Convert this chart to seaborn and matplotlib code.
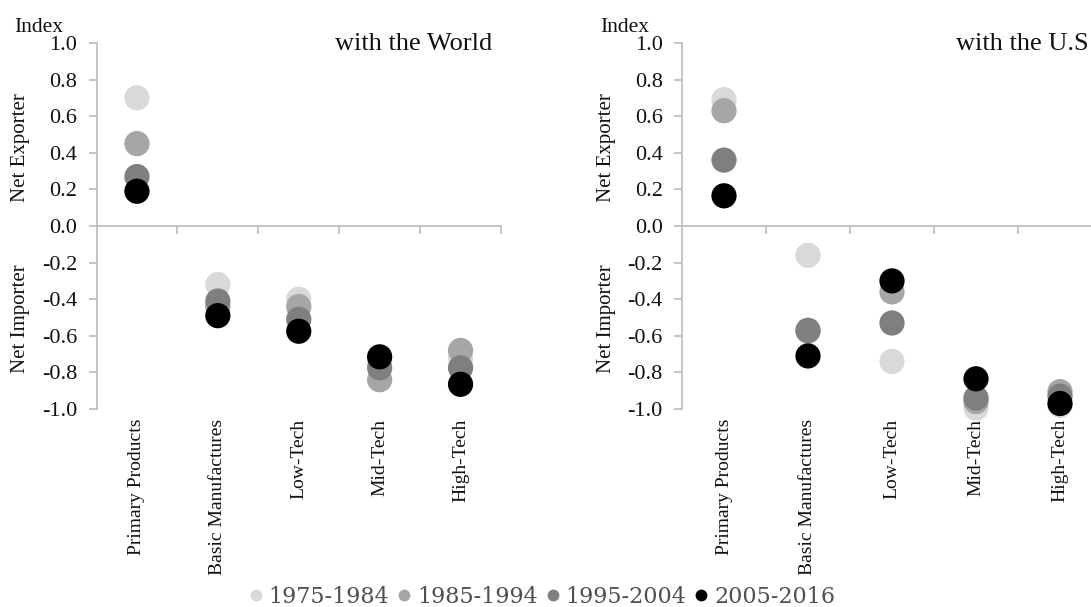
import matplotlib
matplotlib.use("Agg")
import matplotlib.pyplot as plt
from matplotlib.lines import Line2D
from matplotlib.ticker import FixedLocator, FormatStrFormatter
import seaborn as sns
import pandas as pd

categories = ["Primary Products", "Basic Manufactures", "Low-Tech", "Mid-Tech", "High-Tech"]
periods = ["1975-1984", "1985-1994", "1995-2004", "2005-2016"]
colors = ["#d9d9d9", "#a6a6a6", "#7f7f7f", "#000000"]

world_1975 = [0.70, -0.32, -0.40, -0.74, -0.72]
world_1985 = [0.45, -0.44, -0.44, -0.84, -0.68]
world_1995 = [0.27, -0.41, -0.51, -0.775, -0.775]
world_2005 = [0.19, -0.49, -0.575, -0.715, -0.865]

us_1975 = [0.69, -0.16, -0.74, -0.995, -0.98]
us_1985 = [0.63, -0.575, -0.36, -0.96, -0.905]
us_1995 = [0.36, -0.57, -0.53, -0.94, -0.93]
us_2005 = [0.165, -0.71, -0.30, -0.835, -0.97]

panel_titles = ["with the World", "with the U.S"]
yticks = [-1.0, -0.8, -0.6, -0.4, -0.2, 0.0, 0.2, 0.4, 0.6, 0.8, 1.0]


def make_df(series):
    rows = []
    for period, vals in zip(periods, series):
        for cat, v in zip(categories, vals):
            rows.append({"category": cat, "pos": categories.index(cat), "period": period, "value": v})
    return pd.DataFrame(rows)


world_df = make_df([world_1975, world_1985, world_1995, world_2005])
us_df = make_df([us_1975, us_1985, us_1995, us_2005])

sns.set_style("white")
plt.rcParams["font.family"] = ["Liberation Serif", "DejaVu Serif"]
plt.rcParams["axes.unicode_minus"] = False

fig = plt.figure(figsize=(10.91, 6.07), dpi=100)
H = 607.0
W = 1091.0
ax1 = fig.add_axes([96.5 / W, (H - 409) / H, 404.5 / W, 366 / H])
ax2 = fig.add_axes([682 / W, (H - 409) / H, 420 / W, 366 / H])

palette = dict(zip(periods, colors))
spine_col = "#bfbfbf"

for ax, df, title, title_x in [(ax1, world_df, panel_titles[0], 0.978), (ax2, us_df, panel_titles[1], 0.967)]:
    sns.scatterplot(data=df, x="pos", y="value", hue="period", palette=palette,
                    s=330, linewidth=0, alpha=1, ax=ax, legend=False, clip_on=False, zorder=3)
    ax.set_xlim(-0.5, 4.5)
    ax.set_ylim(-1.0, 1.0)
    ax.set_xlabel("")
    ax.set_ylabel("")
    ax.set_facecolor("none")
    for s in ["top", "right"]:
        ax.spines[s].set_visible(False)
    ax.spines["left"].set_color(spine_col)
    ax.spines["left"].set_linewidth(1.3)
    ax.spines["bottom"].set_color(spine_col)
    ax.spines["bottom"].set_linewidth(1.3)
    ax.spines["bottom"].set_position(("data", 0))
    ax.set_yticks(yticks)
    ax.yaxis.set_major_formatter(FormatStrFormatter("%.1f"))
    ax.tick_params(axis="y", direction="out", length=6, width=1.3, color=spine_col,
                   labelsize=16, pad=8, labelcolor="#111111", left=True)
    ax.set_xticks([])
    ax.xaxis.set_minor_locator(FixedLocator([0.5, 1.5, 2.5, 3.5, 4.5]))
    ax.tick_params(axis="x", which="minor", direction="out", length=6, width=1.3,
                   color=spine_col, bottom=True, labelbottom=False)
    sec = ax.secondary_xaxis("bottom")
    sec.set_xticks(range(len(categories)))
    sec.set_xticklabels(categories, rotation=90, fontsize=14, color="#111111")
    sec.tick_params(length=0, pad=7)
    sec.spines["bottom"].set_visible(False)
    ax.text(title_x, 0.981, title, transform=ax.transAxes, ha="right", va="baseline",
            fontsize=19, color="#111111")
    ax.annotate("Index", xy=(0, 1), xycoords="axes fraction", xytext=(-82, 11),
                textcoords="offset pixels", ha="left", va="baseline", fontsize=15.5, color="#111111")
    yt = ax.get_yaxis_transform()
    ax.annotate("Net Exporter", xy=(0, 0.43), xycoords=yt, xytext=(-76, 0),
                textcoords="offset pixels", rotation=90, ha="center", va="center",
                fontsize=15, color="#111111")
    ax.annotate("Net Importer", xy=(0, -0.505), xycoords=yt, xytext=(-76, 0),
                textcoords="offset pixels", rotation=90, ha="center", va="center",
                fontsize=15, color="#111111")

handles = [Line2D([0], [0], marker="o", linestyle="", markersize=8.5,
                  markerfacecolor=c, markeredgewidth=0) for c in colors]
leg = fig.legend(handles, periods, loc="center", bbox_to_anchor=(0.497, 1 - 597 / H), ncol=4,
                 frameon=False, prop={"family": "DejaVu Serif", "size": 16},
                 handlelength=0.55, handletextpad=0.3, columnspacing=0.4, borderpad=0)
for t in leg.get_texts():
    t.set_color("#505050")

fig.savefig("out.png", dpi=100)
